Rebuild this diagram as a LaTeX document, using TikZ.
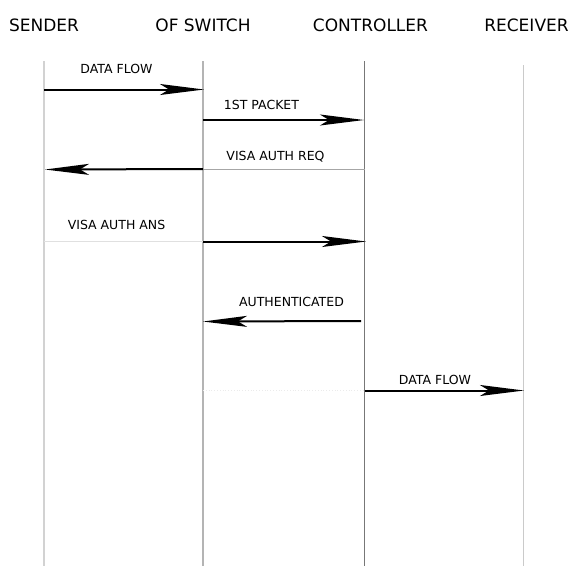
\documentclass[tikz,border=0pt]{standalone}
\usepackage{fontspec}
\setmainfont{DejaVu Sans}
\usetikzlibrary{arrows.meta}
\definecolor{lifeA}{HTML}{D2D2D2}
\definecolor{lifeB}{HTML}{B4B4B4}
\definecolor{lifeC}{HTML}{777777}
\definecolor{lifeD}{HTML}{CACACA}
\begin{document}
\begin{tikzpicture}[x=1pt,y=-1pt,
  head/.style={inner sep=0pt,anchor=base,font=\fontsize{17}{20}\selectfont},
  lbl/.style={inner sep=0pt,anchor=base,font=\fontsize{12.5}{15}\selectfont},
  life/.style={line width=1.4pt},
  msg/.style={line width=2pt,-{Stealth[length=44pt,width=11pt,inset=9pt]}},
  faint/.style={line width=0.8pt}]
\useasboundingbox (0,0) rectangle (571,566);
% headers
\node[head] (hs) at (44,31) {SENDER};
\node[head] (hw) at (203,31) {OF SWITCH};
\node[head] (hc) at (370.5,31) {CONTROLLER};
\node[head] (hr) at (526.5,31) {RECEIVER};
% lifelines
\coordinate (st) at (44,61);  \coordinate (sb) at (44,566);
\coordinate (wt) at (203,61); \coordinate (wb) at (203,566);
\coordinate (ct) at (364.5,61); \coordinate (cb) at (364.5,566);
\coordinate (rt) at (523.5,65); \coordinate (rb) at (523.5,566);
\draw[life,lifeA] (st) -- (sb);
\draw[life,lifeB] (wt) -- (wb);
\draw[life,lifeC] (ct) -- (cb);
\draw[life,lifeD] (rt) -- (rb);
% message points
\coordinate (s1) at (44,89.5);  \coordinate (w1) at (204,89.5);
\coordinate (w2) at (203,120);  \coordinate (c2) at (364,120);
\coordinate (c3) at (364.5,169); \coordinate (w3) at (203,169); \coordinate (s3) at (45,169.5);
\coordinate (s4) at (44,241.5); \coordinate (w4) at (203,241.5); \coordinate (c4) at (366,241.5);
\coordinate (c5) at (361,321);  \coordinate (w5) at (203,321.5);
\coordinate (w6) at (203,390.5); \coordinate (c6) at (364.5,390.5); \coordinate (r6) at (524,390.5);
% faint segments
\draw[faint,black!35] (c3) -- (w3);
\draw[faint,black!12] (s4) -- (w4);
\draw[faint,black!8,dotted] (w6) -- (c6);
% messages
\draw[msg] (s1) -- (w1);
\draw[msg] (w2) -- (c2);
\draw[msg] (w3) -- (s3);
\draw[msg] (w4) -- (c4);
\draw[msg] (c5) -- (w5);
\draw[msg] (c6) -- (r6);
% labels
\node[lbl] (l1) at (116.5,73) {DATA FLOW};
\node[lbl] (l2) at (261.5,109.3) {1ST PACKET};
\node[lbl] (l3) at (275.5,160) {VISA AUTH REQ};
\node[lbl] (l4) at (116.5,229) {VISA AUTH ANS};
\node[lbl] (l5) at (291.5,306) {AUTHENTICATED};
\node[lbl] (l6) at (435,384) {DATA FLOW};
\end{tikzpicture}
\end{document}
